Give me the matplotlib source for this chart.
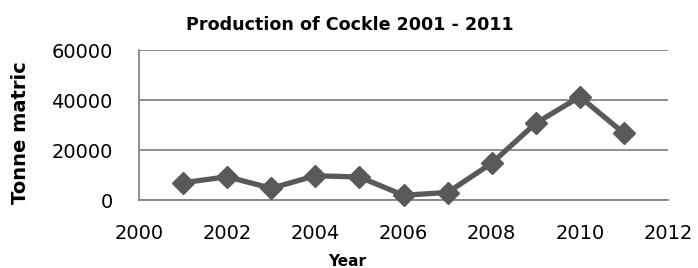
import matplotlib
matplotlib.use("Agg")
import matplotlib.pyplot as plt

years = [2001, 2002, 2003, 2004, 2005, 2006, 2007, 2008, 2009, 2010, 2011]
production = [6900, 9300, 4700, 9700, 9200, 1900, 3000, 14700, 30700, 41300, 26700]
x_ticks = [2000, 2002, 2004, 2006, 2008, 2010, 2012]
y_ticks = [0, 20000, 40000, 60000]

plt.rcParams['font.family'] = ['DejaVu Sans']

W, H = 698, 268
fig = plt.figure(figsize=(W / 100, H / 100), dpi=100)
ax = fig.add_axes([139 / W, 1 - 200 / H, (668 - 139) / W, 150 / H])

ax.plot(years, production, color='#595959', linewidth=3.8, marker='D',
        markersize=11, markerfacecolor='#595959', markeredgecolor='#595959',
        zorder=3, clip_on=False)

ax.set_xlim(2000, 2012)
ax.set_ylim(0, 60000)
ax.set_xticks(x_ticks)
ax.set_yticks(y_ticks)
ax.tick_params(axis='both', length=0, labelsize=14, colors='black')
ax.tick_params(axis='x', pad=17)
ax.tick_params(axis='y', pad=19)

ax.yaxis.grid(True, color='#868686', linewidth=1.3)
ax.set_axisbelow(True)
for s in ['top', 'right']:
    ax.spines[s].set_visible(False)
for s in ['left', 'bottom']:
    ax.spines[s].set_color('#868686')
    ax.spines[s].set_linewidth(1.3)

fig.text(350 / W, 1 - 30 / H, 'Production of Cockle 2001 - 2011', fontsize=12.6,
         fontweight='bold', ha='center', va='baseline')
fig.text(347 / W, 1 - 266 / H, 'Year', fontsize=11, fontweight='bold',
         ha='center', va='baseline')
fig.text(21 / W, 1 - 132.5 / H, 'Tonne matric', fontsize=14, fontweight='bold',
         rotation=90, ha='center', va='center')

fig.savefig('out.png', dpi=100)
